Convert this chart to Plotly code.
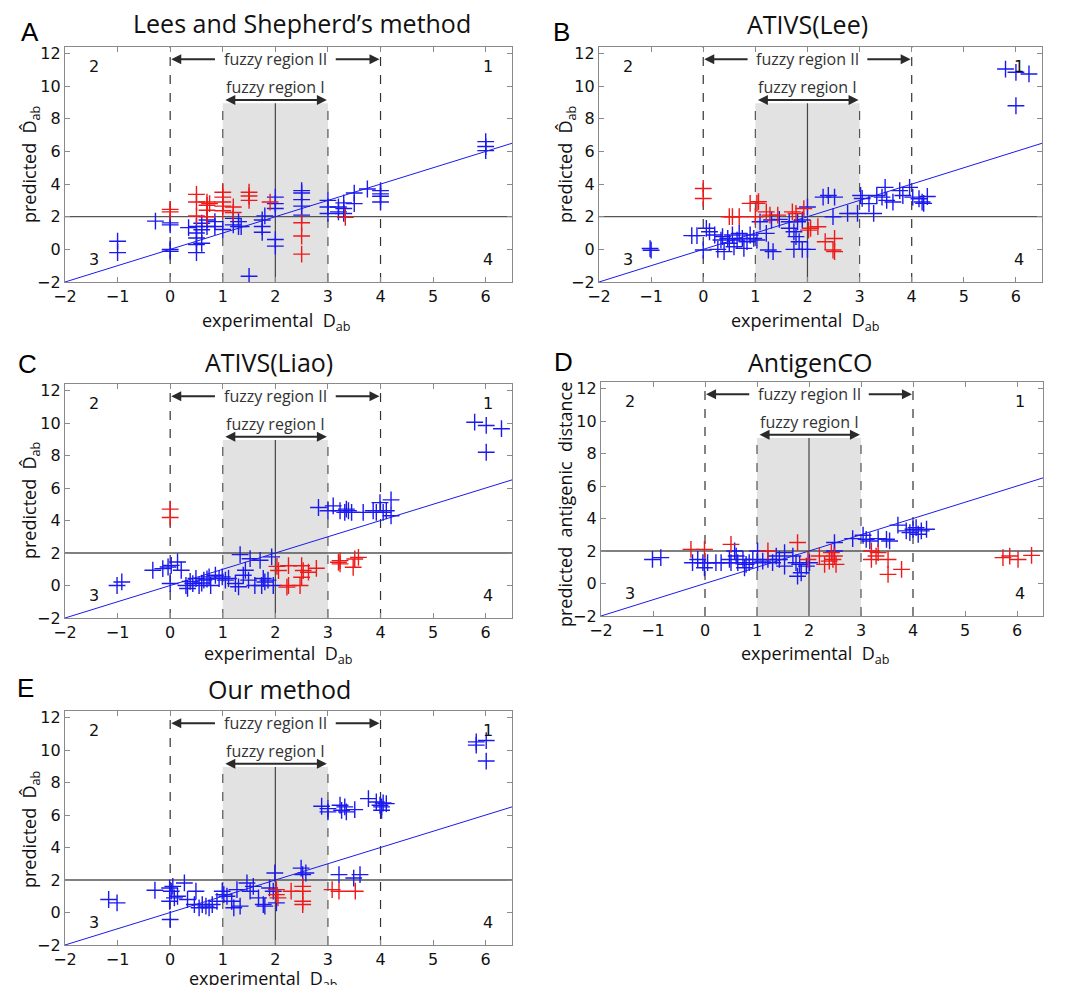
import plotly.graph_objects as go

# ---------------- data ----------------
X_RANGE = [-2, 6.5]
Y_RANGE = [-2, 12.4]
X_TICKS = [-2, -1, 0, 1, 2, 3, 4, 5, 6]
Y_TICKS = [-2, 0, 2, 4, 6, 8, 10, 12]
DIAG = [-2, 6.5]

TITLES = ["Lees and Shepherd’s method", "ATIVS(Lee)", "ATIVS(Liao)", "AntigenCO", "Our method"]
LETTERS = ["A", "B", "C", "D", "E"]
YTITLES = ["predicted  D\u0302<sub>ab</sub>", "predicted  D\u0302<sub>ab</sub>",
           "predicted  D\u0302<sub>ab</sub>", "predicted  antigenic  distance",
           "predicted  D\u0302<sub>ab</sub>"]
XTITLE = "experimental  D<sub>ab</sub>"
QUADRANTS = ["1", "2", "3", "4"]
QUAD_X = [6.05, -1.45, -1.45, 6.05]
QUAD_Y = [11.2, 11.2, -0.6, -0.6]

A_blue = [(-1, 0.5), (-1, -0.2), (-0.28, 1.73), (0, 1.5), (0, 1.62), (0, 0), (0, -0.12),
          (0.35, 1.33), (0.5, 1.4), (0.5, 1.0), (0.5, 0.7), (0.5, 0.3), (0.5, -0.2),
          (0.6, 1.6), (0.6, 1.2), (0.6, 0.37), (0.7, 1.8), (0.7, 1.4), (0.85, 1.7), (0.85, 1.4),
          (1.0, 1.22), (1.2, 1.9), (1.2, 1.5), (1.3, 1.7), (1.3, 1.4), (1.35, 1.4), (1.5, -1.65),
          (1.75, 1.05), (1.75, 1.4), (1.75, 1.8), (1.8, 2.05), (2, 3.2), (2, 2.8), (2, 2.5),
          (2, 0.6), (2, 0.2), (2.5, 3.6), (2.5, 3.45), (2.5, 3.05), (2.5, 2.65), (2.5, 2.1),
          (3, 3.0), (3, 2.6), (3, 2.2), (3.2, 2.6), (3.2, 2.3), (3.3, 2.85), (3.3, 2.5), (3.3, 2.2),
          (3.5, 3.45), (3.5, 2.8), (3.75, 3.7), (4, 3.6), (4, 3.4), (4, 3.25), (4, 2.9),
          (6, 6.6), (6, 6.3), (6, 6.05)]
A_red = [(0, 2.45), (0, 2.3), (0.5, 3.37), (0.5, 2.9), (0.5, 2.04), (0.7, 2.9), (0.7, 2.7),
         (0.7, 2.4), (0.7, 2.0), (0.75, 2.8), (1, 3.5), (1, 3.2), (1, 2.9), (1, 2.65), (1, 2.37),
         (1.2, 2.6), (1.2, 2.26), (1.5, 3.5), (1.5, 3.27), (1.5, 3.0), (1.9, 2.9), (2.5, 1.63),
         (2.5, 0.82), (2.5, -0.29), (3.33, 1.96)]

B_blue = [(-1.02, 0.05), (-1, -0.05), (-0.22, 0.84), (-0.12, 0.84), (0, -0.04), (0.06, 1.29),
          (0.12, 1.08), (0.22, 0.88), (0.28, 0), (0.34, 0.57), (0.37, 0.78), (0.4, -0.14),
          (0.47, 0.67), (0.5, 0.37), (0.56, 0.88), (0.59, 0.16), (0.65, 0.57), (0.69, 0.98),
          (0.75, 0.67), (0.78, 0.06), (0.84, 0.47), (0.9, 0.88), (0.97, 0.67), (1.03, 0.57),
          (1.09, 1.69), (1.21, 0.98), (1.25, -0.04), (1.34, -0.14), (1.31, 1.8), (1.46, 1.84),
          (1.65, 1.69), (1.65, 1.29), (1.74, 1.08), (1.78, 0.78), (1.74, 0), (1.9, 0), (2.0, 0),
          (1.84, 0.47), (1.9, 1.8), (1.81, 1.69), (2.0, 2.6), (2.3, 3.2), (2.4, 3.3), (2.52, 3.2),
          (2.49, 2.0), (2.77, 2.2), (2.96, 2.2), (3.02, 3.3), (3.05, 3.12), (3.18, 2.8),
          (3.27, 2.2), (3.33, 3.3), (3.43, 3.2), (3.49, 3.8), (3.52, 3.0), (3.64, 2.9),
          (3.77, 3.6), (3.83, 3.3), (3.96, 3.8), (4.02, 3.2), (4.14, 3.1), (4.2, 2.9),
          (4.3, 3.24), (4.23, 2.82), (5.8, 11.05), (6.0, 10.85), (6.25, 10.75), (6.0, 8.8)]
B_red = [(0, 3.73), (0, 3.12), (0.5, 2.0), (0.56, 2.0), (0.69, 2.0), (0.9, 2.82), (1.03, 2.82),
         (1.06, 2.92), (1.0, 2.0), (1.21, 2.3), (1.28, 2.1), (1.43, 2.1), (1.71, 2.3),
         (1.78, 2.2), (1.93, 2.5), (2.02, 1.18), (2.06, 1.29), (2.2, 1.39), (2.34, 0.47),
         (2.52, 0.67), (2.49, -0.04), (2.52, -0.14)]

C_blue = [(-1.01, 0), (-0.92, 0.22), (-0.33, 0.94), (-0.14, 1.04), (-0.04, 1.14), (0.02, 1.24),
          (0.14, 1.45), (0.21, 0.94), (0, 0.12), (0.3, 0), (0.33, -0.18), (0.43, 0.12),
          (0.49, 0.43), (0.55, 0), (0.64, 0.33), (0.74, 0.53), (0.77, 0), (0.86, 0.63),
          (0.93, 0.43), (0.99, 0.53), (1.05, 0.33), (1.11, 0.43), (0.38, 0.25), (0.6, 0.15),
          (0.7, 0.4), (1.24, 0.12), (1.3, -0.08), (1.33, 1.9), (1.43, 0.94), (1.39, 0.63),
          (1.52, 1.65), (1.61, 0), (1.71, 1.55), (1.77, 0.43), (1.8, 0.22), (1.86, 0.33),
          (1.93, 1.76), (1.96, 0), (1.74, 0), (1.49, 0.33), (2.82, 4.8), (3.0, 4.6), (3.1, 4.9),
          (3.23, 4.6), (3.32, 4.5), (3.39, 4.6), (3.45, 4.5), (3.67, 4.5), (3.92, 4.5),
          (3.99, 5.1), (4.05, 4.5), (4.2, 5.27), (4.2, 4.29), (4.11, 4.6), (3.35, 4.7),
          (3.86, 4.6), (5.79, 10.05), (6.01, 9.85), (6.3, 9.65), (6.01, 8.2)]
C_red = [(0, 4.7), (0, 4.18), (2.03, 1.18), (2.06, 0.92), (2.25, 1.22), (2.5, 1.22),
         (2.53, 0.92), (2.63, 0.82), (2.78, 1.06), (2.25, 0), (2.47, 0), (2.5, 0.51),
         (2.22, -0.1), (3.23, 1.53), (3.23, 1.33), (3.2, 1.43), (3.48, 1.12), (3.58, 1.73),
         (3.51, 1.63)]

D_blue = [(-1.01, 1.48), (-0.85, 1.59), (-0.24, 1.28), (-0.14, 1.48), (-0.04, 1.28),
          (-0.01, 0.97), (0.05, 1.28), (0.21, 1.28), (0.31, 1.28), (0.47, 1.48), (0.5, 1.28),
          (0.57, 2.0), (0.6, 1.69), (0.63, 1.28), (0.73, 1.48), (0.76, 0.97), (0.79, 1.18),
          (0.85, 1.28), (0.92, 1.48), (1.01, 1.28), (1.01, 2.0), (1.11, 1.38), (1.21, 1.48),
          (1.3, 1.28), (1.37, 1.69), (1.43, 1.48), (1.53, 1.9), (1.53, 1.07), (1.69, 1.69),
          (1.75, 1.28), (1.78, 0.45), (1.85, 0.66), (1.95, 1.07), (2.01, 1.28), (1.82, 1.18),
          (2.49, 2.52), (2.49, 2.0), (2.84, 2.76), (3.04, 2.97), (3.1, 2.72), (3.17, 2.62),
          (3.33, 2.76), (3.49, 2.72), (3.55, 2.62), (3.71, 3.59), (3.87, 3.24), (4.0, 3.34),
          (4.06, 3.44), (4.1, 3.03), (4.26, 3.34), (3.94, 3.13), (4.16, 3.24)]
D_red = [(-0.27, 2.1), (-0.01, 2.1), (0.5, 2.41), (1.21, 2.0), (1.78, 2.52), (1.98, 1.48),
         (2.2, 1.69), (2.3, 1.18), (2.43, 1.9), (2.46, 1.48), (2.49, 1.69), (2.52, 1.18),
         (2.39, 1.38), (3.2, 2.0), (3.33, 1.9), (3.2, 1.48), (3.29, 1.69), (3.52, 1.48),
         (3.52, 0.56), (3.78, 0.87), (5.73, 1.59), (5.86, 1.69), (6.02, 1.48), (6.28, 1.73)]

E_blue = [(-1.17, 0.8), (-1.01, 0.59), (-0.29, 1.37), (-0.01, 1.51), (0.02, 1.31), (0.05, 1.61),
          (-0.01, 0.69), (0, -0.43), (0.08, 0.9), (0.27, 1.82), (0.14, 1.0), (0.33, 0.8),
          (0.49, 1.31), (0.46, 0.49), (0.55, 0.29), (0.61, 0.49), (0.68, 0.39), (0.74, 0.29),
          (0.8, 0.49), (0.89, 0.69), (0.99, 1.31), (1.02, 1.1), (1.08, 1.0), (1.17, 0.69),
          (1.21, 0.29), (1.27, 1.41), (1.33, 0.39), (1.46, 1.82), (1.52, 1.31), (1.58, 1.61),
          (1.68, 0.9), (1.77, 0.49), (1.8, 0.39), (1.89, 1.51), (1.99, 2.43), (2.02, 0.59),
          (1.96, 1.31), (2.49, 2.73), (2.52, 2.33), (2.58, 2.43), (3.21, 2.33), (3.49, 2.12),
          (3.61, 2.33), (2.88, 6.54), (3.0, 6.39), (3.0, 6.19), (3.23, 6.6), (3.26, 6.29),
          (3.32, 6.5), (3.35, 6.19), (3.51, 6.33), (3.77, 7.01), (3.92, 6.8), (3.99, 6.6),
          (4.02, 6.29), (4.05, 6.74), (4.11, 6.7), (4.02, 6.5), (5.82, 10.5), (5.82, 10.3),
          (6.01, 10.58), (6.01, 9.32)]
E_red = [(2.02, 1.41), (2.02, 1.1), (2.05, 0.9), (2.3, 1.31), (2.52, 1.31), (2.52, 0.69),
         (2.52, 0.49), (2.52, 1.61), (3.08, 1.41), (3.21, 1.31), (3.52, 1.31)]

BLUE = [A_blue, B_blue, C_blue, D_blue, E_blue]
RED = [A_red, B_red, C_red, D_red, E_red]

# ---------------- layout (screen-pixel positions, page body has an 8px margin) ----------------
OFF = 8
FW, FH = 1067 - 2 * OFF, 993 - 2 * OFF


def px(x):
    return (x - OFF) / FW


def py(y):
    return 1 - (y - OFF) / FH


BOXES = [(65, 512, 47, 282), (599, 1042, 47, 282), (65, 512, 384, 618),
         (601, 1043, 382, 616), (65, 512, 711, 945)]
TITLE_POS = [(302, 23), (807, 24), (269, 362), (810, 362), (279, 689)]
LETTER_POS = [(30, 32), (561, 32), (27, 364), (563, 362), (25, 688)]
XTITLE_POS = [(276, 321), (805, 321), (278, 654), (815, 654), (263, 979)]
YTITLE_POS = [(30, 165), (566, 165), (31, 501), (565, 505), (30, 830)]

BLUE_C = "#1a1aee"
RED_C = "#ee1a1a"
FRAME = "#8a8a8a"
DARK = "#2a2a2a"

fig = go.Figure()
annotations = []
shapes = []
layout = {}

for i in range(5):
    n = "" if i == 0 else str(i + 1)
    xa, ya = "x" + n, "y" + n
    l, r, t, b = BOXES[i]
    layout["xaxis" + n] = dict(
        domain=[px(l), px(r)], range=X_RANGE, anchor=ya, tickvals=X_TICKS, automargin=False,
        showline=True, linecolor=FRAME, linewidth=1.2, mirror="ticks",
        ticks="inside", ticklen=5, tickcolor=FRAME, showgrid=False, zeroline=False,
        tickfont=dict(family="DejaVu Sans", size=16, color="#111"),
    )
    layout["yaxis" + n] = dict(
        domain=[py(b), py(t)], range=Y_RANGE, anchor=xa, tickvals=Y_TICKS, automargin=False,
        showline=True, linecolor=FRAME, linewidth=1.2, mirror="ticks",
        ticks="inside", ticklen=5, tickcolor=FRAME, showgrid=False, zeroline=False,
        tickfont=dict(family="DejaVu Sans", size=16, color="#111"),
    )

    # shaded fuzzy region I and guide lines
    shapes.append(dict(type="rect", xref=xa, yref=ya, x0=1, x1=3, y0=-2, y1=8.95,
                       fillcolor="#e2e2e2", line=dict(width=0), layer="below"))
    for xv in (1, 3):
        shapes.append(dict(type="line", xref=xa, yref=ya, x0=xv, x1=xv, y0=-2, y1=8.95,
                           line=dict(color="#555", width=1.2, dash="dash"), layer="below"))
    shapes.append(dict(type="line", xref=xa, yref=ya, x0=2, x1=2, y0=-2, y1=8.95,
                       line=dict(color="#444", width=1.2), layer="below"))
    for xv in (0, 4):
        shapes.append(dict(type="line", xref=xa, yref=ya, x0=xv, x1=xv, y0=-2, y1=Y_RANGE[1],
                           line=dict(color="#333", width=1.2, dash="dash"), layer="below"))
    shapes.append(dict(type="line", xref=xa, yref=ya, x0=X_RANGE[0], x1=X_RANGE[1], y0=2, y1=2,
                       line=dict(color="#555", width=1.3), layer="below"))

    # y = x reference line
    fig.add_trace(go.Scatter(x=DIAG, y=DIAG, mode="lines", xaxis=xa, yaxis=ya,
                             line=dict(color=BLUE_C, width=1), showlegend=False, hoverinfo="skip"))

    bx = [p[0] for p in BLUE[i]]
    by = [p[1] for p in BLUE[i]]
    rx = [p[0] for p in RED[i]]
    ry = [p[1] for p in RED[i]]
    fig.add_trace(go.Scatter(x=bx, y=by, mode="markers", xaxis=xa, yaxis=ya, showlegend=False,
                             marker=dict(symbol="cross-thin", size=12,
                                         line=dict(color=BLUE_C, width=1.4))))
    fig.add_trace(go.Scatter(x=rx, y=ry, mode="markers", xaxis=xa, yaxis=ya, showlegend=False,
                             marker=dict(symbol="cross-thin", size=12,
                                         line=dict(color=RED_C, width=1.4))))

    # fuzzy region labels and arrows
    annotations.append(dict(xref=xa, yref=ya, x=2, y=11.65, text="fuzzy region II",
                            showarrow=False, font=dict(family="Open Sans", size=16, color="#333")))
    annotations.append(dict(xref=xa, yref=ya, axref=xa, ayref=ya, x=0.02, y=11.65, ax=0.88, ay=11.65,
                            text="", showarrow=True, arrowhead=2, arrowsize=1, arrowwidth=2,
                            arrowcolor=DARK))
    annotations.append(dict(xref=xa, yref=ya, axref=xa, ayref=ya, x=3.98, y=11.65, ax=3.12, ay=11.65,
                            text="", showarrow=True, arrowhead=2, arrowsize=1, arrowwidth=2,
                            arrowcolor=DARK))
    annotations.append(dict(xref=xa, yref=ya, x=2, y=9.95, text="fuzzy region I",
                            showarrow=False, font=dict(family="Open Sans", size=16, color="#333")))
    annotations.append(dict(xref=xa, yref=ya, axref=xa, ayref=ya, x=2.98, y=9.15, ax=1.02, ay=9.15,
                            text="", showarrow=True, arrowhead=2, startarrowhead=2, arrowside="end+start",
                            arrowsize=1, arrowwidth=2, arrowcolor=DARK))

    # quadrant numbers
    for q, qx, qy in zip(QUADRANTS, QUAD_X, QUAD_Y):
        annotations.append(dict(xref=xa, yref=ya, x=qx, y=qy, text=q, showarrow=False,
                                font=dict(family="DejaVu Sans", size=16, color="#111")))

    # axis titles
    tx, ty = XTITLE_POS[i]
    annotations.append(dict(xref="paper", yref="paper", x=px(tx), y=py(ty), text=XTITLE,
                            showarrow=False, xanchor="center", yanchor="middle",
                            font=dict(family="Open Sans", size=18, color="#111")))
    tx, ty = YTITLE_POS[i]
    annotations.append(dict(xref="paper", yref="paper", x=px(tx), y=py(ty), text=YTITLES[i],
                            showarrow=False, xanchor="center", yanchor="middle", textangle=-90,
                            font=dict(family="Open Sans", size=18, color="#111")))

    # titles and panel letters
    tx, ty = TITLE_POS[i]
    annotations.append(dict(xref="paper", yref="paper", x=px(tx), y=py(ty), text=TITLES[i],
                            showarrow=False, xanchor="center", yanchor="middle",
                            font=dict(family="Open Sans", size=25, color="#111")))
    lx, ly = LETTER_POS[i]
    annotations.append(dict(xref="paper", yref="paper", x=px(lx), y=py(ly), text=LETTERS[i],
                            showarrow=False, xanchor="center", yanchor="middle",
                            font=dict(family="Liberation Sans", size=26, color="#000")))

fig.update_layout(**layout)
fig.update_layout(width=FW, height=FH, autosize=False, margin=dict(l=0, r=0, t=0, b=0),
                  paper_bgcolor="white", plot_bgcolor="white",
                  annotations=annotations, shapes=shapes)

fig.write_html("out.html")
